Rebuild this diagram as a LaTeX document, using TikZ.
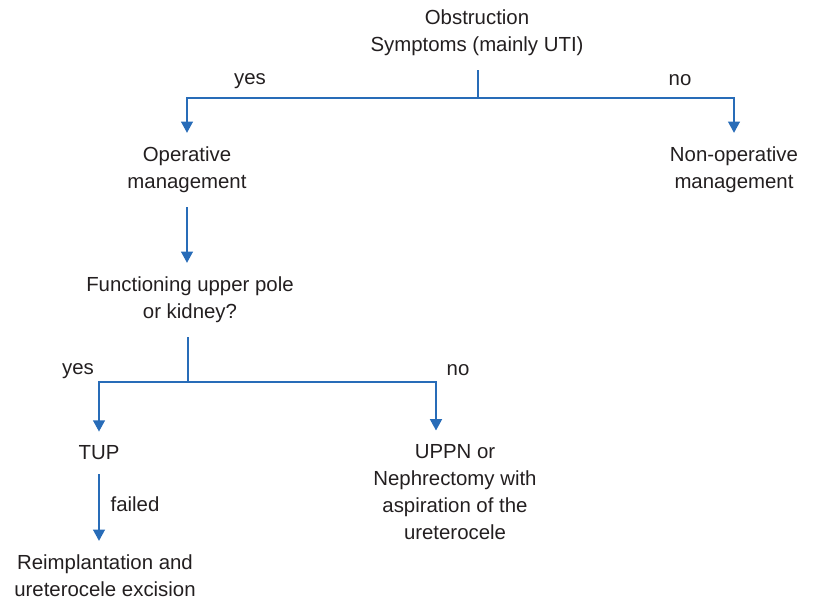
\documentclass[tikz,border=0pt]{standalone}
\usepackage{fontspec}
\setmainfont{Liberation Sans}
\usepackage{xcolor}
\usetikzlibrary{arrows.meta}

\definecolor{flowblue}{RGB}{40,108,184}
\definecolor{ink}{RGB}{35,31,32}

\begin{document}
\begin{tikzpicture}[x=0.025cm,y=-0.025cm,
  txt/.style={align=center,inner xsep=9pt,inner ysep=10pt,text=ink,font=\fontsize{14.5}{19}\selectfont},
  lbl/.style={inner sep=0pt,text=ink,font=\fontsize{14.5}{19}\selectfont},
  wire/.style={draw=flowblue,line width=1pt},
  flow/.style={wire,-{Triangle[width=8.5pt,length=8pt]}}]
\useasboundingbox (0,0) rectangle (815,600);

\node (obs)[txt] at (477,33) {Obstruction\\Symptoms (mainly UTI)};
\node (op)[txt] at (187,170) {Operative\\management};
\node (nonop)[txt] at (734,170) {Non-operative\\management};
\node (func)[txt] at (190,300) {Functioning upper pole\\or kidney?};
\node (tup)[txt] at (99,453) {TUP};
\node (uppn)[txt] at (455,492) {UPPN or\\Nephrectomy with\\aspiration of the\\ureterocele};
\node (reimp)[txt] at (105,576) {Reimplantation and\\ureterocele excision};

% branch points
\coordinate (j1) at (478,98);
\coordinate (j2) at (188,382);
\coordinate (k2) at (436,382);

\draw[wire] (obs.south -| j1) -- (j1);
\draw[flow] (j1) -| (op);
\draw[flow] (j1) -| (nonop);
\draw[flow] (op) -- (op |- func.north);
\draw[wire] (func.south -| j2) -- (j2);
\draw[flow] (j2) -| (tup);
\draw[flow] (j2) -- (k2) -- (k2 |- uppn.north);
\draw[flow] (tup) -- (tup |- reimp.north);

\node (yes1)[lbl] at (250,81) {yes};
\node (no1)[lbl] at (680,80) {no};
\node (yes2)[lbl] at (78,371) {yes};
\node (no2)[lbl] at (458,370) {no};
\node (fail)[lbl] at (135,504) {failed};
\end{tikzpicture}
\end{document}
